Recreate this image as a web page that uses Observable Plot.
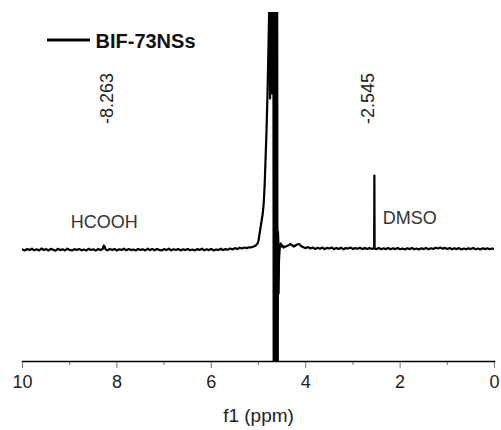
<!DOCTYPE html>
<html>
<head>
<meta charset="utf-8">
<script src="https://cdn.jsdelivr.net/npm/d3@7"></script>
<script src="https://cdn.jsdelivr.net/npm/@observablehq/plot@0.6"></script>
<style>
  html, body { margin: 0; padding: 0; background: #fff; }
  #chart { width: 501px; height: 430px; }
</style>
</head>
<body>
<div id="chart"></div>
<script>
// ---- data ----
const seriesName = "BIF-73NSs";
const xLabel = "f1 (ppm)";
const majorTicks = [10, 8, 6, 4, 2, 0];
const minorTicks = [9, 7, 5, 3, 1];

const ppm = [
  10.00, 9.95, 9.90, 9.85, 9.80, 9.75, 9.70, 9.65, 9.60, 9.55, 9.50, 9.45, 9.40, 9.35, 9.30, 9.25, 9.20, 9.15, 9.10, 9.05,
  9.00, 8.95, 8.90, 8.85, 8.80, 8.75, 8.70, 8.65, 8.60, 8.55, 8.50, 8.45, 8.40, 8.35, 8.30, 8.28, 8.26, 8.24, 8.20, 8.15,
  8.10, 8.05, 8.00, 7.95, 7.90, 7.85, 7.80, 7.75, 7.70, 7.65, 7.60, 7.55, 7.50, 7.45, 7.40, 7.35, 7.30, 7.25, 7.20, 7.15,
  7.10, 7.05, 7.00, 6.95, 6.90, 6.85, 6.80, 6.75, 6.70, 6.65, 6.60, 6.55, 6.50, 6.45, 6.40, 6.35, 6.30, 6.25, 6.20, 6.15,
  6.10, 6.05, 6.00, 5.95, 5.90, 5.85, 5.80, 5.75, 5.70, 5.65, 5.60, 5.55, 5.50, 5.45, 5.40, 5.35, 5.30, 5.25, 5.20,
  5.15, 5.10, 5.06, 5.02, 5.00, 4.98, 4.96, 4.94, 4.91, 4.89, 4.87, 4.85, 4.83, 4.81, 4.79, 4.775,
  4.765, 4.755, 4.745, 4.73, 4.715, 4.70, 4.685, 4.675, 4.665, 4.655, 4.645, 4.635, 4.625, 4.615, 4.605, 4.595,
  4.588, 4.58, 4.574, 4.566, 4.556, 4.545, 4.53, 4.51, 4.49, 4.47,
  4.45, 4.40, 4.35, 4.32, 4.28, 4.25, 4.22, 4.18, 4.14, 4.10, 4.05, 4.00, 3.95, 3.90, 3.85, 3.80, 3.75, 3.70, 3.65, 3.60,
  3.55, 3.50, 3.45, 3.40, 3.35, 3.30, 3.25, 3.20, 3.15, 3.10, 3.05, 3.00, 2.95, 2.90, 2.85, 2.80, 2.75, 2.70, 2.65, 2.60,
  2.56, 2.55, 2.545, 2.54, 2.50, 2.45, 2.40, 2.35, 2.30, 2.25, 2.20, 2.15, 2.10, 2.05, 2.00, 1.95, 1.90, 1.85, 1.80, 1.75,
  1.70, 1.65, 1.60, 1.55, 1.50, 1.45, 1.40, 1.35, 1.30, 1.25, 1.20, 1.15, 1.10, 1.05, 1.00, 0.95, 0.90, 0.85, 0.80, 0.75,
  0.70, 0.65, 0.60, 0.55, 0.50, 0.45, 0.40, 0.35, 0.30, 0.25, 0.20, 0.15, 0.10, 0.05, 0.00
];

const intensity = [
  -0.010, -0.020, -0.005, -0.015, -0.002, -0.018, -0.008, -0.020, 0.000, -0.015, -0.006, -0.020, -0.004, -0.012, -0.022, -0.003, -0.016, -0.008, -0.020, -0.002,
  -0.014, -0.020, -0.006, -0.016, -0.004, -0.018, -0.010, -0.020, -0.003, -0.015, -0.008, -0.020, -0.006, -0.016, -0.004, 0.030, 0.020, -0.010, -0.018, -0.006,
  -0.016, -0.004, -0.020, -0.008, -0.014, -0.002, -0.018, -0.006, -0.016, -0.010, -0.020, -0.004, -0.014, -0.008, -0.020, -0.002, -0.016, -0.006, -0.018, -0.004,
  -0.014, -0.020, -0.006, -0.016, -0.002, -0.018, -0.008, -0.014, -0.004, -0.020, -0.008, -0.016, -0.004, -0.018, -0.010, -0.020, -0.006, -0.014, -0.002, -0.018,
  -0.008, -0.016, -0.004, -0.020, -0.010, -0.014, -0.002, -0.016, -0.006, -0.012, 0.000, -0.010, 0.004, -0.006, 0.008, 0.000, 0.010, 0.004, 0.012,
  0.012, 0.020, 0.030, 0.050, 0.080, 0.140, 0.200, 0.260, 0.350, 0.450, 0.630, 0.900, 1.180, 1.530, 1.980, 2.360,
  3.0, 1.50, 3.0, 1.55, 3.0, 1.55, 3.0, -3.0, 3.0, -3.0, 3.0, -3.0, 3.0, -3.0, 3.0, -3.0,
  0.170, 0.080, -0.450, -0.120, -0.040, 0.030, 0.050, 0.020, 0.030, 0.010,
  0.015, 0.025, 0.035, 0.045, 0.030, 0.020, 0.030, 0.040, 0.045, 0.025, 0.012, 0.004, 0.014, 0.000, 0.010, -0.004, 0.008, -0.002, 0.010, -0.006,
  0.006, 0.000, 0.010, -0.006, 0.004, -0.004, 0.008, -0.008, 0.004, 0.000, 0.010, -0.006, 0.004, -0.002, 0.008, -0.006, 0.004, -0.004, 0.006, -0.004,
  0.004, 0.000, 0.730, 0.000, -0.006, 0.004, -0.008, 0.002, -0.006, 0.004, -0.008, 0.002, -0.006, 0.004, -0.008, 0.000, -0.010, 0.002, -0.006, 0.004,
  -0.008, 0.000, -0.010, 0.002, -0.006, 0.004, -0.008, 0.002, -0.004, 0.008, 0.000, 0.010, -0.002, 0.006, -0.006, 0.004, -0.008, 0.002, -0.006, 0.004,
  -0.010, 0.000, -0.008, 0.002, -0.006, 0.004, -0.008, 0.000, -0.010, 0.002, -0.006, 0.002, -0.008, 0.000, -0.004
];

// peak labels (rotated) and assignments
const peakLabels = ["-8.263", "-2.545"];
const peakLabelX = [8.20, 2.665];
const peakLabelY = [1.50, 1.50];

const assignNames = ["HCOOH", "DMSO"];
const assignX = [8.27, 2.37];
const assignY = [0.21, 0.25];
const assignAnchor = ["middle", "start"];

// ---- build tables ----
const spectrum = ppm.map((x, i) => ({x, y: intensity[i]}));
const peaks = peakLabels.map((t, i) => ({t, x: peakLabelX[i], y: peakLabelY[i]}));
const assigns = assignNames.map((t, i) => ({t, x: assignX[i], y: assignY[i], a: assignAnchor[i]}));

const font = "'Liberation Sans', Arial, Helvetica, sans-serif";

const chart = Plot.plot({
  width: 501,
  height: 430,
  marginLeft: 22,
  marginRight: 7,
  marginTop: 12,
  marginBottom: 69,
  style: {fontFamily: font, background: "#fff", color: "#111", overflow: "visible"},
  x: {domain: [10, 0]},
  y: {domain: [-1.13, 2.36], axis: null},
  marks: [
    Plot.line(spectrum, {x: "x", y: "y", stroke: "#000", strokeWidth: 2.2, clip: true}),
    Plot.axisX({ticks: minorTicks, tickSize: 4, text: null, label: null, stroke: "#777"}),
    Plot.axisX({ticks: majorTicks, tickSize: 7, tickPadding: 7, fontSize: 18, label: null,
                tickFormat: d => String(d), stroke: "#777", fill: "#222"}),
    Plot.frame({anchor: "bottom", stroke: "#000", strokeWidth: 1.5}),
    Plot.text(peaks, {x: "x", y: "y", text: "t", rotate: -90, fontSize: 18, fill: "#222",
                      textAnchor: "middle", lineAnchor: "middle"}),
    Plot.text(assigns.filter(d => d.a === "middle"), {x: "x", y: "y", text: "t", fontSize: 18, fill: "#333",
                      textAnchor: "middle", lineAnchor: "bottom"}),
    Plot.text(assigns.filter(d => d.a === "start"), {x: "x", y: "y", text: "t", fontSize: 18, fill: "#333",
                      textAnchor: "start", lineAnchor: "bottom"}),
    Plot.text([xLabel], {frameAnchor: "bottom", dy: 60, lineAnchor: "bottom", fontSize: 19, fill: "#222"}),
    // legend
    Plot.text([seriesName], {frameAnchor: "top-left", dx: 73, dy: 35, lineAnchor: "bottom", textAnchor: "start",
                             fontSize: 20, fontWeight: "bold", fill: "#111"}),
    () => {
      const g = d3.create("svg:g");
      g.append("line").attr("x1", 47).attr("x2", 90).attr("y1", 40).attr("y2", 40)
        .attr("stroke", "#000").attr("stroke-width", 3);
      return g.node();
    }
  ]
});

document.getElementById("chart").appendChild(chart);
</script>
</body>
</html>
